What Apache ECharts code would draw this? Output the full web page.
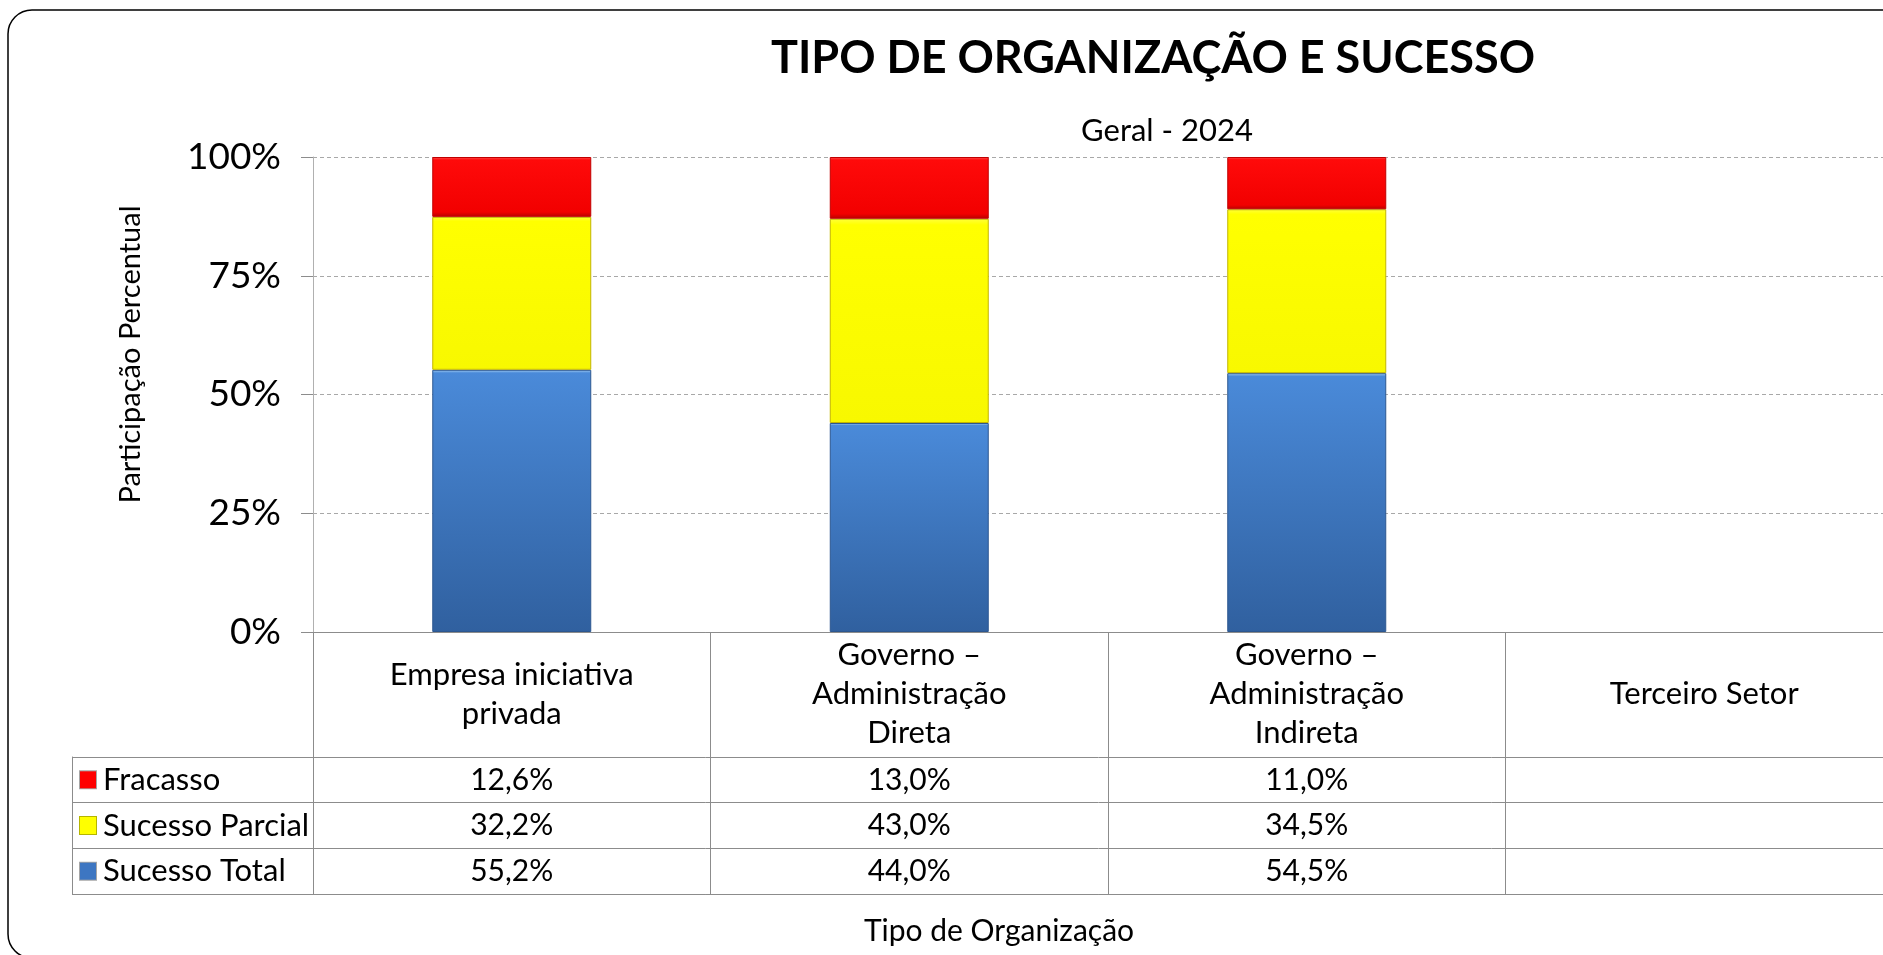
<!DOCTYPE html>
<html>
<head>
<meta charset="utf-8">
<script src="https://cdn.jsdelivr.net/npm/echarts@6/dist/echarts.min.js"></script>
<style>
  html, body { margin: 0; padding: 0; background: #fff; }
  #container { width: 1883px; height: 955px; }
</style>
</head>
<body>
<div id="container"></div>
<script>
// dados
var categorias = ['Empresa iniciativa\nprivada', 'Governo –\nAdministração\nDireta', 'Governo –\nAdministração\nIndireta', 'Terceiro Setor'];
var linhas = ['Fracasso', 'Sucesso Parcial', 'Sucesso Total'];
var fracasso = [12.6, 13.0, 11.0, null];
var sucessoParcial = [32.2, 43.0, 34.5, null];
var sucessoTotal = [55.2, 44.0, 54.5, null];
var cores = ['#ff0000', '#ffff00', '#3d76c2'];

var fonte = 'Lato';
var cinza = '#8c8c8c';

function pct(v) {
    return v.toFixed(1).replace('.', ',') + '%';
}

// celulas da tabela: [coluna, linha, valor]
var celulas = [];
[fracasso, sucessoParcial, sucessoTotal].forEach(function (serie, l) {
    serie.forEach(function (v, c) {
        if (v != null) celulas.push([c, l, v]);
    });
});

var richLegenda = {};
linhas.forEach(function (n, i) {
    richLegenda['m' + i] = {
        width: 16, height: 17, backgroundColor: cores[i],
        borderColor: i == 1 ? '#b5b500' : 'rgba(0,0,0,0.35)', borderWidth: 1
    };
});
richLegenda.t = { fontFamily: fonte, fontSize: 31, color: '#000', padding: [0, 0, 0, 7] };

var dom = document.getElementById('container');
var myChart = echarts.init(dom);

var option = {
    animation: false,
    backgroundColor: '#fff',
    graphic: [{
        type: 'rect',
        shape: { x: 8, y: 10, width: 2000, height: 948, r: 24 },
        style: { fill: 'none', stroke: '#000', lineWidth: 1.5 },
        silent: true
    }],
    title: [{
        text: 'TIPO DE ORGANIZAÇÃO E SUCESSO',
        left: 1148, top: 31, textAlign: 'center',
        textStyle: { fontFamily: fonte, fontSize: 45, fontWeight: 'bold', color: '#000' }
    }, {
        text: 'Geral - 2024',
        left: 1162, top: 110, textAlign: 'center',
        textStyle: { fontFamily: fonte, fontSize: 31, fontWeight: 'normal', color: '#000' }
    }],
    // a área do gráfico passa da borda direita, como no original
    grid: [
        { left: 313, top: 157, width: 1590, height: 475, outerBoundsMode: 'none' },
        { left: 313, top: 757, width: 1590, height: 137, outerBoundsMode: 'none' }
    ],
    xAxis: [{
        type: 'category',
        gridIndex: 0,
        data: categorias,
        axisLine: { lineStyle: { color: cinza, width: 1 } },
        axisTick: { show: true, length: 262, lineStyle: { color: cinza } },
        axisLabel: {
            interval: 0, margin: 62, verticalAlign: 'middle',
            fontFamily: fonte, fontSize: 31, lineHeight: 39, color: '#000'
        },
        splitLine: { show: false }
    }, {
        type: 'category',
        gridIndex: 1,
        data: categorias,
        axisLine: { lineStyle: { color: cinza, width: 1 } },
        axisTick: { show: false },
        axisLabel: { show: false },
        name: 'Tipo de Organização',
        nameLocation: 'middle',
        nameGap: 22,
        nameTextStyle: { fontFamily: fonte, fontSize: 30, color: '#000', padding: [0, 218, 0, 0] }
    }],
    yAxis: [{
        type: 'value',
        gridIndex: 0,
        min: 0, max: 100, interval: 25,
        axisLine: { show: true, lineStyle: { color: '#b0b0b0' } },
        axisTick: { show: true, length: 12, lineStyle: { color: cinza } },
        axisLabel: { formatter: '{value}%', margin: 32, fontFamily: fonte, fontSize: 37, color: '#000' },
        splitLine: { lineStyle: { color: '#a8a8a8', type: [4, 3] } },
        name: 'Participação Percentual',
        nameLocation: 'middle',
        nameGap: 168,
        nameTextStyle: { fontFamily: fonte, fontSize: 29, color: '#000', padding: [0, 0, 0, 80] }
    }, {
        type: 'category',
        gridIndex: 1,
        data: linhas,
        inverse: true,
        axisLine: { show: true, lineStyle: { color: cinza } },
        axisTick: { show: true, length: 241, lineStyle: { color: cinza } },
        splitLine: { show: true, lineStyle: { color: cinza, type: 'solid' } },
        axisLabel: {
            margin: 233, align: 'left',
            formatter: function (v, i) { return '{m' + i + '|}{t|' + v + '}'; },
            rich: richLegenda
        }
    }, {
        type: 'category',
        gridIndex: 1,
        data: linhas,
        inverse: true,
        position: 'left',
        offset: 241,
        axisLine: { show: true, lineStyle: { color: cinza } },
        axisTick: { show: false },
        axisLabel: { show: false },
        splitLine: { show: false }
    }],
    series: [{
        name: 'Sucesso Total',
        type: 'bar',
        stack: 'total',
        barWidth: '40%',
        data: sucessoTotal,
        itemStyle: {
            color: new echarts.graphic.LinearGradient(0, 0, 0, 1, [
                { offset: 0, color: '#a9d2f5' },
                { offset: 0.012, color: '#4a8ad9' },
                { offset: 1, color: '#30609f' }
            ]),
            borderColor: '#2c5790', borderWidth: 1
        }
    }, {
        name: 'Sucesso Parcial',
        type: 'bar',
        stack: 'total',
        data: sucessoParcial,
        itemStyle: {
            color: new echarts.graphic.LinearGradient(0, 0, 0, 1, [
                { offset: 0, color: '#ffff3a' },
                { offset: 0.03, color: '#ffff00' },
                { offset: 1, color: '#f8f800' }
            ]),
            borderColor: '#c2b400', borderWidth: 1
        }
    }, {
        name: 'Fracasso',
        type: 'bar',
        stack: 'total',
        data: fracasso,
        itemStyle: {
            color: new echarts.graphic.LinearGradient(0, 0, 0, 1, [
                { offset: 0, color: '#ff5050' },
                { offset: 0.05, color: '#ff0a0a' },
                { offset: 0.92, color: '#f20000' },
                { offset: 1, color: '#b80000' }
            ]),
            borderColor: '#c00000', borderWidth: 1
        }
    }, {
        name: 'tabela',
        type: 'custom',
        xAxisIndex: 1,
        yAxisIndex: 1,
        data: celulas,
        encode: { x: 0, y: 1 },
        renderItem: function (params, api) {
            var p = api.coord([api.value(0), api.value(1)]);
            return {
                type: 'text',
                x: p[0], y: p[1],
                style: {
                    text: pct(api.value(2)),
                    fontFamily: fonte, fontSize: 30, fill: '#000',
                    align: 'center', verticalAlign: 'middle'
                }
            };
        }
    }]
};

if (option && typeof option === "object") {
    myChart.setOption(option, true);
}
window.onresize = function () {
    myChart.resize();
};
</script>
</body>
</html>
